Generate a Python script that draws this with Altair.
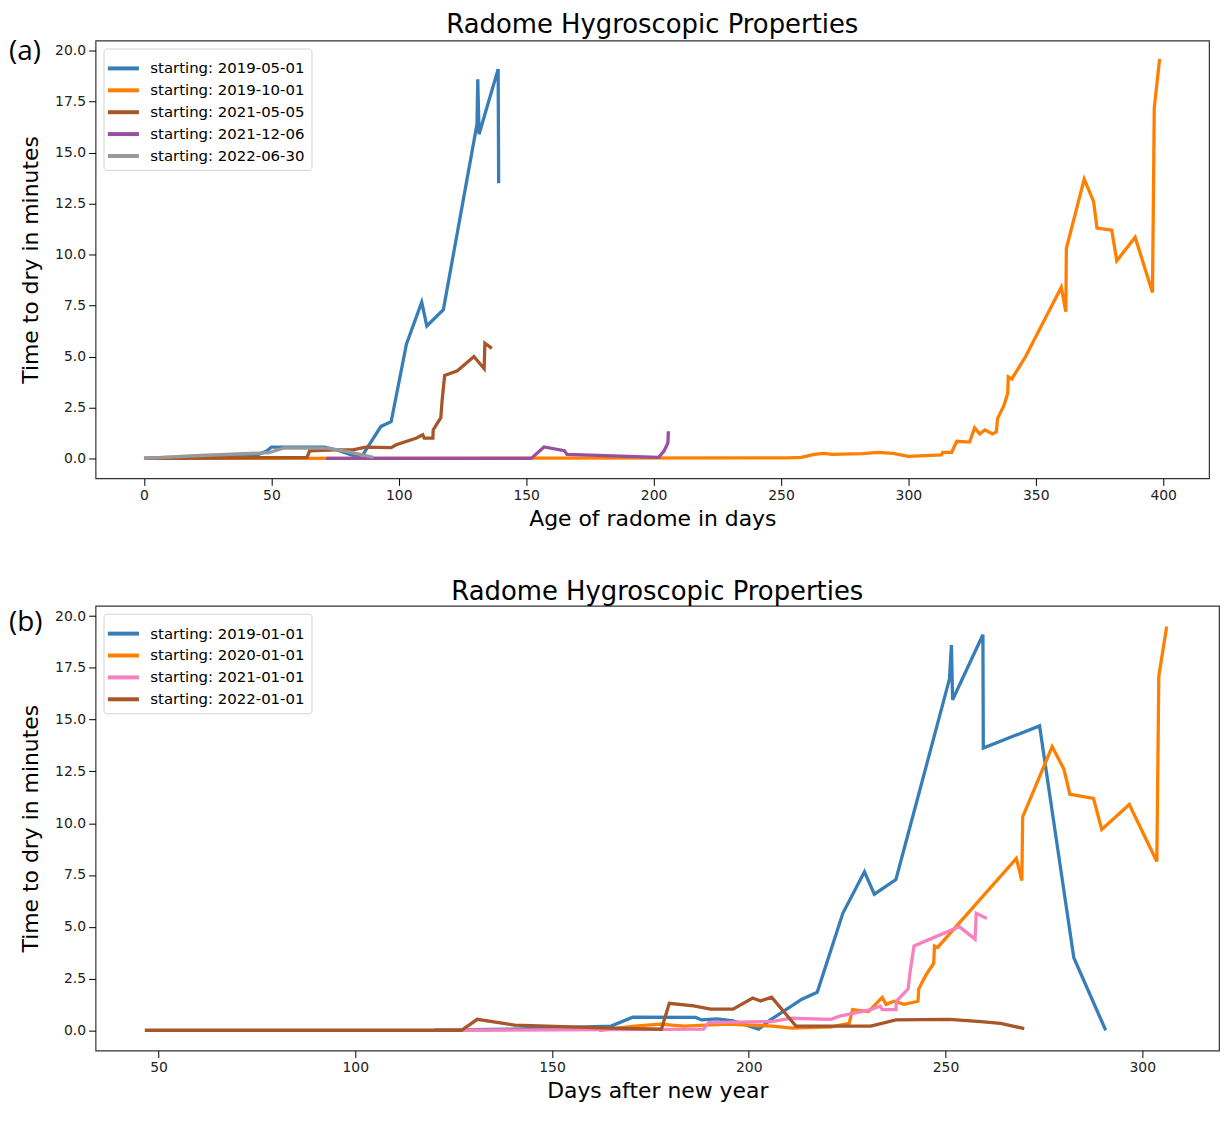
import altair as alt
import pandas as pd

# ---- panel (a): age of radome in days ----
a_series = ["starting: 2019-05-01", "starting: 2019-10-01", "starting: 2021-05-05",
            "starting: 2021-12-06", "starting: 2022-06-30"]
a_colors = ["#377eb8", "#ff7f00", "#a65628", "#984ea3", "#999999"]

a_blue_x = [0, 20, 45, 48, 50, 71, 76, 83, 86, 93, 97, 103, 109, 111, 117.5, 130.7, 131, 131.5, 139, 139.2]
a_blue_y = [0, 0.1, 0.2, 0.35, 0.55, 0.55, 0.4, 0.1, 0.2, 1.57, 1.8, 5.6, 7.67, 6.5, 7.3, 16.4, 18.6, 15.9, 19.1, 13.5]

a_orange_x = [0, 253, 258, 263, 267, 270, 282, 288, 294, 300, 313, 313.5, 317, 319, 324, 326, 328, 330, 333,
              334.5, 335, 337.5, 339, 339.2, 340.6, 346, 360, 361.8, 362, 369, 372.7, 374, 379.8, 381.8,
              389, 395.8, 396.5, 398.6]
a_orange_y = [0, 0.03, 0.05, 0.2, 0.25, 0.2, 0.24, 0.3, 0.25, 0.1, 0.17, 0.3, 0.3, 0.84, 0.8, 1.5, 1.2, 1.4, 1.2,
              1.3, 1.95, 2.6, 3.2, 4.0, 3.9, 5.0, 8.4, 7.2, 10.3, 13.7, 12.6, 11.3, 11.2, 9.7,
              10.85, 8.14, 17.2, 19.6]

a_brown_x = [0, 24, 64, 65, 75, 82, 87, 97, 99, 107, 109.4, 110, 113.4, 113.5, 116.5, 117, 118, 123, 129.5,
             133.5, 133.8, 136.5]
a_brown_y = [0, 0.02, 0.05, 0.37, 0.42, 0.42, 0.55, 0.53, 0.67, 1.0, 1.16, 1.0, 1.0, 1.4, 2.0, 2.83, 4.07, 4.3,
             5.0, 4.4, 5.65, 5.4]

a_purple_x = [71.5, 152, 157, 165, 166, 202, 204, 205.6, 205.8]
a_purple_y = [0, 0, 0.56, 0.38, 0.2, 0.05, 0.35, 0.75, 1.33]

a_grey_x = [0, 20, 49, 55, 72, 80, 90]
a_grey_y = [0, 0.13, 0.28, 0.52, 0.5, 0.33, 0.05]

# ---- panel (b): days after new year ----
b_series = ["starting: 2019-01-01", "starting: 2020-01-01", "starting: 2021-01-01", "starting: 2022-01-01"]
b_colors = ["#377eb8", "#ff7f00", "#f781bf", "#a65628"]

b_blue_x = [120, 140, 165, 170.5, 186.5, 188, 192, 196, 202.5, 205.5, 213.5, 217.4, 223.9, 229.4, 231.9,
            237.4, 251, 251.5, 251.8, 259.5, 259.6, 273.9, 282.6, 290.7]
b_blue_y = [0, 0.05, 0.2, 0.63, 0.62, 0.5, 0.55, 0.45, 0.05, 0.5, 1.5, 1.83, 5.65, 7.65, 6.57,
            7.28, 16.96, 18.6, 15.96, 19.1, 13.63, 14.7, 3.5, 0.0]

b_orange_x = [162, 171, 177.5, 183.5, 194.5, 206, 211, 221, 225.5, 226.4, 230.4, 233.9, 234.9, 236.9, 239.5,
              243, 243.2, 245, 247, 247.2, 248, 268, 269.4, 269.6, 277.1, 280.1, 281.6, 287.6, 289.7,
              296.7, 303.7, 304.2, 306.2]
b_orange_y = [0, 0.2, 0.3, 0.2, 0.3, 0.2, 0.1, 0.17, 0.33, 1.0, 0.9, 1.58, 1.25, 1.4, 1.25,
              1.4, 2.0, 2.66, 3.24, 4.07, 4.0, 8.3, 7.23, 10.3, 13.7, 12.6, 11.4, 11.2, 9.7,
              10.9, 8.15, 17.1, 19.5]

b_pink_x = [124, 188.5, 189.8, 205.8, 210.8, 220.9, 222.9, 230.9, 233.4, 233.9, 237.4, 237.5, 240.5, 241, 242,
            253.5, 257.5, 257.8, 260.5]
b_pink_y = [0, 0.05, 0.37, 0.42, 0.58, 0.53, 0.67, 1.0, 1.16, 1.0, 1.0, 1.4, 2.0, 2.83, 4.07,
            5.0, 4.4, 5.65, 5.4]

b_brown_x = [46.5, 127, 131, 140.5, 165, 177.8, 179.8, 186, 190.3, 196, 201, 203, 205.8, 212, 231, 237.4,
             251, 259, 264, 270]
b_brown_y = [0, 0, 0.53, 0.25, 0.1, 0.05, 1.3, 1.18, 1.02, 1.02, 1.56, 1.41, 1.6, 0.2, 0.2, 0.5,
             0.53, 0.42, 0.33, 0.08]

y_ticks = [0, 2.5, 5, 7.5, 10, 12.5, 15, 17.5, 20]


def build(names, xs, ys):
    frames = []
    for name, x, y in zip(names, xs, ys):
        frames.append(pd.DataFrame({"series": name, "x": x, "y": y, "i": range(len(x))}))
    return pd.concat(frames, ignore_index=True)


df_a = build(a_series, [a_blue_x, a_orange_x, a_brown_x, a_purple_x, a_grey_x],
             [a_blue_y, a_orange_y, a_brown_y, a_purple_y, a_grey_y])
df_b = build(b_series, [b_blue_x, b_orange_x, b_pink_x, b_brown_x],
             [b_blue_y, b_orange_y, b_pink_y, b_brown_y])

legend = alt.Legend(title=None, orient="top-left", offset=8, fillColor="white", strokeColor="#d4d4d4",
                    cornerRadius=3, padding=6, symbolType="M-1.3,0H1.3", symbolStrokeWidth=4,
                    symbolSize=576, labelFontSize=15, labelFont="DejaVu Sans", labelColor="black",
                    rowPadding=0, labelOffset=13)


def panel(df, names, colors, xdom, xticks, xtitle, tag, w, h, tag_y):
    lines = alt.Chart(df).mark_line(strokeWidth=3.3).encode(
        x=alt.X("x:Q", title=xtitle, scale=alt.Scale(domain=xdom, nice=False, zero=False),
                axis=alt.Axis(values=xticks, format="d")),
        y=alt.Y("y:Q", title="Time to dry in minutes", scale=alt.Scale(domain=[-0.98, 20.5], nice=False),
                axis=alt.Axis(values=y_ticks, format=".1f")),
        color=alt.Color("series:N", scale=alt.Scale(domain=names, range=colors), legend=legend),
        detail="series:N",
        order="i:Q",
    )
    label = alt.Chart(pd.DataFrame({"t": [tag]})).mark_text(
        align="left", baseline="middle", font="Open Sans", fontSize=28, color="black"
    ).encode(text="t:N", x=alt.value(-87), y=alt.value(tag_y))
    return (lines + label).properties(
        width=w, height=h,
        title=alt.TitleParams("Radome Hygroscopic Properties", fontSize=26, font="DejaVu Sans",
                              fontWeight="normal", color="black", offset=1),
    )


top = panel(df_a, a_series, a_colors, [-19, 418], [0, 50, 100, 150, 200, 250, 300, 350, 400],
            "Age of radome in days", "(a)", 1119, 440, 12)
bottom = panel(df_b, b_series, b_colors, [34, 319.5], [50, 100, 150, 200, 250, 300],
               "Days after new year", "(b)", 1129, 447, 17)

chart = alt.vconcat(top, bottom, spacing=48).resolve_scale(
    color="independent"
).resolve_legend(
    color="independent"
).properties(
    padding={"left": 0, "top": 0, "right": 0, "bottom": 0}
).configure_view(
    stroke="#333333", strokeWidth=1.2
).configure_axis(
    grid=False, domain=False, tickColor="black", tickSize=7, tickWidth=1,
    labelFont="DejaVu Sans", labelFontSize=14, labelColor="#222222", labelPadding=3,
    titleFont="DejaVu Sans", titleFontSize=22, titleFontWeight="normal", titleColor="black",
    titlePadding=6
).configure_axisY(titlePadding=12)

chart.save("out.html", embed_options={"renderer": "svg", "actions": False})
